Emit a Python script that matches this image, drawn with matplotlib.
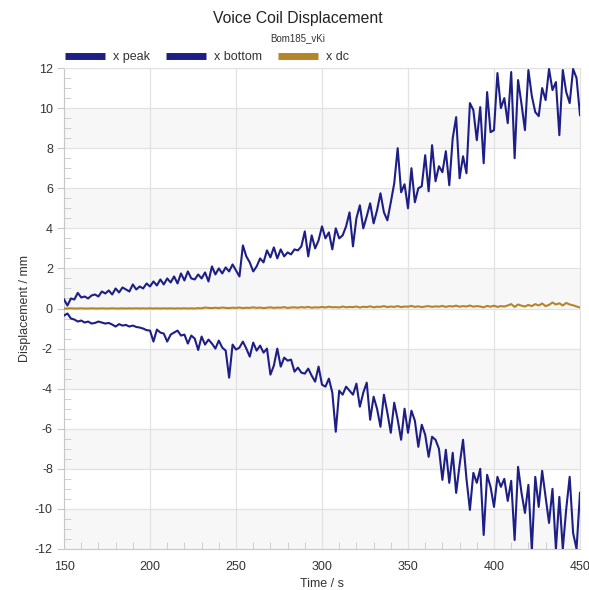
import numpy as np
import matplotlib
matplotlib.use("Agg")
import matplotlib.pyplot as plt
from matplotlib.ticker import MultipleLocator

plt.rcParams['font.family'] = ['Liberation Sans', 'DejaVu Sans']
plt.rcParams['axes.unicode_minus'] = False

# time axis, seconds
time_s = np.arange(150, 451, 2)

x_peak = [
    0.45, 0.15, 0.5, 0.45, 0.78, 0.55, 0.6, 0.5, 0.65, 0.7,
    0.6, 0.85, 0.75, 0.9, 0.7, 1.0, 0.8, 1.05, 0.95, 0.85,
    1.2, 0.95, 1.1, 1.0, 1.25, 1.1, 1.35, 1.15, 1.45, 1.2,
    1.5, 1.3, 1.6, 1.25, 1.75, 1.4, 1.85, 1.5, 1.45, 1.7,
    1.5, 1.8, 1.35, 2.1, 1.7, 2.0, 1.75, 2.05, 1.85, 2.2,
    1.9, 1.6, 3.15, 2.6, 2.3, 1.85, 2.1, 2.5, 2.3, 2.9,
    2.55, 3.05, 2.5, 2.95, 2.6, 2.8, 2.7, 2.95, 2.9, 3.1,
    3.85, 2.6, 3.65, 3.0, 3.4, 4.1, 3.5, 3.8, 2.95, 4.0,
    3.5, 3.65, 4.1, 4.8, 3.1, 4.5, 5.15, 4.0, 4.6, 5.25,
    4.25, 4.9, 5.75, 4.8, 4.4, 5.3, 6.25, 8.0, 5.8, 6.2,
    5.0, 7.0, 5.3, 6.0, 6.1, 7.65, 5.85, 8.15, 6.35, 7.1,
    6.8, 7.85, 6.15, 8.5, 9.55, 6.5, 7.6, 6.75, 10.25, 9.9,
    8.4, 10.05, 7.25, 10.8, 8.8, 8.9, 11.75, 10.0, 10.5, 9.25,
    11.8, 7.5, 11.4, 10.2, 8.9, 11.9, 10.6, 9.8, 9.6, 11.0,
    10.4, 11.95, 10.9, 11.3, 8.65, 11.9, 10.8, 10.25, 11.95, 11.5,
    9.65,
]

x_bottom = [
    -0.35, -0.25, -0.5, -0.55, -0.65, -0.6, -0.7, -0.65, -0.75, -0.72,
    -0.65, -0.7, -0.75, -0.72, -0.8, -0.9, -0.78, -0.85, -0.82, -0.9,
    -0.85, -0.92, -0.95, -1.0, -1.08, -1.1, -1.65, -1.05, -1.2, -1.25,
    -1.65, -1.3, -1.2, -1.1, -1.35, -1.3, -1.75, -1.35, -1.5, -2.07,
    -1.4, -1.8, -1.55, -1.75, -2.0, -1.6, -1.95, -2.1, -3.45, -1.8,
    -2.05, -1.95, -1.65, -2.0, -2.4, -1.7, -2.1, -1.85, -2.2, -2.0,
    -3.3, -2.85, -2.0, -2.9, -2.45, -2.6, -2.55, -3.15, -2.95, -3.2,
    -3.25, -3.0, -3.35, -3.65, -2.9, -3.8, -3.9, -3.5, -4.2, -6.15,
    -4.1, -4.3, -3.9, -4.1, -4.3, -3.75, -4.9, -4.2, -3.7, -5.55,
    -4.4, -5.0, -5.9, -4.3, -5.2, -6.2, -4.7, -5.55, -6.55, -5.0,
    -6.2, -5.1, -5.6, -6.9, -5.8, -6.3, -7.4, -6.4, -6.55, -7.0,
    -8.55, -7.05, -8.7, -7.2, -9.2, -7.8, -6.55, -8.5, -10.05, -8.2,
    -8.7, -8.0, -11.3, -8.3, -8.9, -9.9, -8.4, -8.9, -8.5, -9.6,
    -8.6, -11.55, -7.9, -9.2, -10.2, -8.8, -12.05, -8.4, -9.9, -8.1,
    -9.4, -10.7, -9.0, -12.0, -9.4, -12.0, -10.0, -8.4, -11.2, -12.0,
    -9.2,
]

x_dc = [
    0.0, 0.0, 0.01, 0.0, 0.0, 0.01, 0.0, 0.0, 0.01, 0.0,
    0.0, 0.01, 0.0, 0.0, 0.01, 0.0, 0.0, 0.01, 0.0, 0.01,
    0.0, 0.01, 0.0, 0.01, 0.0, 0.01, 0.0, 0.01, 0.0, 0.01,
    0.0, 0.01, 0.0, 0.01, 0.0, 0.01, 0.0, 0.01, 0.0, 0.02,
    0.01, 0.05, 0.03, 0.02, 0.04, 0.02, 0.05, 0.03, 0.02, 0.04,
    0.03, 0.05, 0.02, 0.04, 0.03, 0.06, 0.03, 0.05, 0.02, 0.04,
    0.06, 0.03, 0.05, 0.04, 0.07, 0.03, 0.05, 0.06, 0.04, 0.07,
    0.05, 0.08, 0.04, 0.06, 0.05, 0.08, 0.05, 0.09, 0.06, 0.07,
    0.05, 0.1, 0.06, 0.08, 0.07, 0.1, 0.05, 0.09, 0.07, 0.11,
    0.06, 0.09, 0.08, 0.12, 0.07, 0.1, 0.08, 0.12, 0.07, 0.1,
    0.09, 0.13, 0.08, 0.11, 0.07, 0.1, 0.12, 0.08, 0.11, 0.09,
    0.13, 0.08, 0.12, 0.1, 0.14, 0.09, 0.12, 0.1, 0.15, 0.09,
    0.12, 0.1, 0.06, 0.13, 0.09, 0.14, 0.08, 0.12, 0.1, 0.15,
    0.22, 0.08, 0.2, 0.14, 0.1, 0.18, 0.12, 0.22, 0.15, 0.25,
    0.12, 0.18, 0.3, 0.2, 0.26, 0.15, 0.28, 0.2, 0.16, 0.1,
    0.05,
]

navy = '#1e1f86'
gold = '#b5852a'

fig = plt.figure(figsize=(5.89, 5.90), dpi=100)
ax = fig.add_axes([0.1087, 0.0695, 0.876, 0.8152])

# alternating horizontal bands
for lo in range(-12, 12, 4):
    ax.axhspan(lo, lo + 2, color='#f7f7f7', zorder=0, lw=0)

ax.plot(time_s, x_peak, color=navy, lw=1.5, label='x peak', zorder=3)
ax.plot(time_s, x_bottom, color=navy, lw=1.5, label='x bottom', zorder=3)
ax.plot(time_s, x_dc, color=gold, lw=1.5, label='x dc', zorder=3)

ax.set_xlim(150, 450)
ax.set_ylim(-12, 12)
ax.xaxis.set_major_locator(MultipleLocator(50))
ax.xaxis.set_minor_locator(MultipleLocator(10))
ax.yaxis.set_major_locator(MultipleLocator(2))
ax.yaxis.set_minor_locator(MultipleLocator(0.5))

ax.grid(True, which='major', color='#e2e2e2', lw=0.9, zorder=1)
ax.set_axisbelow(True)

for side in ('top', 'right'):
    ax.spines[side].set_color('#e2e2e2')
for side in ('left', 'bottom'):
    ax.spines[side].set_color('#c8c8c8')

ax.tick_params(axis='both', which='major', labelsize=9, labelcolor='#333333',
               color='#c8c8c8', length=5, direction='out')
ax.tick_params(axis='both', which='minor', color='#c8c8c8', length=5,
               direction='in')
ax.tick_params(axis='x', which='major', length=0, pad=9)
ax.tick_params(axis='y', which='major', pad=3)

ax.set_xlabel('Time / s', fontsize=9, color='#333333', labelpad=3)
ax.set_ylabel('Displacement / mm', fontsize=9, color='#333333', labelpad=3)

fig.text(0.505, 0.969, 'Voice Coil Displacement', ha='center', va='center',
         fontsize=11.3, color='#222222')
fig.text(0.505, 0.935, 'Bom185_vKi', ha='center', va='center',
         fontsize=7, color='#333333')

leg = ax.legend(loc='lower left', bbox_to_anchor=(-0.008, 1.0), ncol=3,
                frameon=False, fontsize=9, handlelength=3.2, handletextpad=0.64,
                columnspacing=1.28, borderaxespad=0.0, borderpad=0.4)
for line in leg.get_lines():
    line.set_linewidth(5)
    line.set_solid_capstyle('butt')
for t in leg.get_texts():
    t.set_color('#333333')

fig.savefig('out.png', dpi=100)
